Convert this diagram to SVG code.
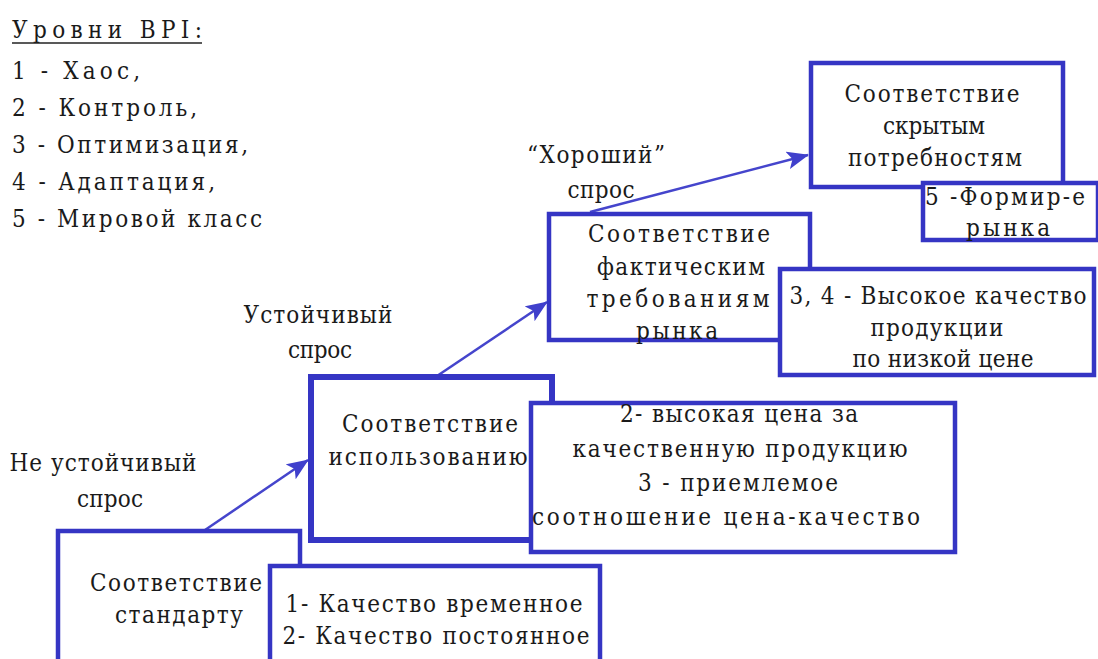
<svg xmlns="http://www.w3.org/2000/svg" width="1098" height="659" viewBox="0 0 1098 659">
<style>
.box{fill:#fff;stroke:#3535c4;stroke-width:4.5}
.t{font-family:"DejaVu Serif Condensed","DejaVu Serif","Liberation Serif",serif;font-stretch:condensed;font-size:24px;fill:#1a1a1a;text-anchor:middle}
.l{font-family:"DejaVu Serif Condensed","DejaVu Serif","Liberation Serif",serif;font-stretch:condensed;font-size:24px;fill:#1a1a1a}
.c{stroke:#4545cc;stroke-width:2.5;fill:none}
</style>
<defs>
<marker id="ah" viewBox="0 0 22 18" refX="21" refY="9" markerWidth="22" markerHeight="18" orient="auto" markerUnits="userSpaceOnUse">
<path d="M0,0 L22,9 L0,18 L5,9 z" fill="#4040cc"/>
</marker>
</defs>
<rect width="1098" height="659" fill="#fff"/>
<g id="legend">
<text class="l" x="12" y="38" textLength="190" lengthAdjust="spacing">Уровни BPI:</text>
<line x1="12" y1="43" x2="202" y2="43" stroke="#222" stroke-width="1.5"/>
<text class="l" x="12" y="79" textLength="128" lengthAdjust="spacing">1 - Хаос,</text>
<text class="l" x="12" y="116" textLength="185" lengthAdjust="spacing">2 - Контроль,</text>
<text class="l" x="12" y="153" textLength="236" lengthAdjust="spacing">3 - Оптимизация,</text>
<text class="l" x="12" y="190" textLength="203" lengthAdjust="spacing">4 - Адаптация,</text>
<text class="l" x="12" y="227" textLength="250" lengthAdjust="spacing">5 - Мировой класс</text>
</g>
<g id="labels">
<text class="t" x="103" y="471" textLength="187" lengthAdjust="spacing">Не устойчивый</text>
<text class="t" x="110" y="507" textLength="66" lengthAdjust="spacing">спрос</text>
<text class="t" x="318" y="323" textLength="149" lengthAdjust="spacing">Устойчивый</text>
<text class="t" x="320" y="358" textLength="64" lengthAdjust="spacing">спрос</text>
<text class="t" x="596" y="163" textLength="138" lengthAdjust="spacing">“Хороший”</text>
<text class="t" x="601" y="198" textLength="67" lengthAdjust="spacing">спрос</text>
</g>
<g id="connectors">
<line class="c" x1="205" y1="530" x2="308" y2="460" marker-end="url(#ah)"/>
<line class="c" x1="437" y1="376" x2="547" y2="302" marker-end="url(#ah)"/>
<line class="c" x1="590" y1="212" x2="808" y2="155" marker-end="url(#ah)"/>
</g>
<g id="nodeA">
<rect class="box" x="58" y="531" width="242" height="140"/>
<text class="t" x="176" y="591" textLength="172" lengthAdjust="spacing">Соответствие</text>
<text class="t" x="179" y="623" textLength="128" lengthAdjust="spacing">стандарту</text>
</g>
<g id="nodeA2">
<rect class="box" x="270" y="566" width="330" height="110"/>
<text class="t" x="434" y="612" textLength="297" lengthAdjust="spacing">1- Качество временное</text>
<text class="t" x="436" y="644" textLength="307" lengthAdjust="spacing">2- Качество постоянное</text>
</g>
<g id="nodeB">
<rect class="box" x="311" y="377" width="241" height="163" style="stroke-width:6"/>
<text class="t" x="430" y="432" textLength="176" lengthAdjust="spacing">Соответствие</text>
<text class="t" x="428" y="465" textLength="199" lengthAdjust="spacing">использованию</text>
</g>
<g id="nodeB2">
<rect class="box" x="531" y="403" width="424" height="149"/>
<text class="t" x="739" y="422" textLength="238" lengthAdjust="spacing">2- высокая цена за</text>
<text class="t" x="740" y="457" textLength="335" lengthAdjust="spacing">качественную продукцию</text>
<text class="t" x="738" y="491" textLength="200" lengthAdjust="spacing">3 - приемлемое</text>
<text class="t" x="726" y="525" textLength="388" lengthAdjust="spacing">соотношение цена-качество</text>
</g>
<g id="nodeC">
<rect class="box" x="549" y="214" width="261" height="126"/>
<text class="t" x="679" y="242" textLength="182" lengthAdjust="spacing">Соответствие</text>
<text class="t" x="681" y="275" textLength="168" lengthAdjust="spacing">фактическим</text>
<text class="t" x="678" y="307" textLength="183" lengthAdjust="spacing">требованиям</text>
<text class="t" x="677" y="339" textLength="82" lengthAdjust="spacing">рынка</text>
</g>
<g id="nodeC2">
<rect class="box" x="780" y="269" width="314" height="106"/>
<text class="t" x="938" y="304" textLength="297" lengthAdjust="spacing">3, 4 - Высокое качество</text>
<text class="t" x="937" y="336" textLength="133" lengthAdjust="spacing">продукции</text>
<text class="t" x="943" y="367" textLength="181" lengthAdjust="spacing">по низкой цене</text>
</g>
<g id="nodeD">
<rect class="box" x="811" y="63" width="252" height="124"/>
<text class="t" x="932" y="102" textLength="175" lengthAdjust="spacing">Соответствие</text>
<text class="t" x="934" y="134" textLength="102" lengthAdjust="spacing">скрытым</text>
<text class="t" x="935" y="166" textLength="174" lengthAdjust="spacing">потребностям</text>
</g>
<g id="nodeD2">
<rect class="box" x="923" y="183" width="175" height="57"/>
<text class="t" x="1005" y="205" textLength="160" lengthAdjust="spacing">5 -Формир-е</text>
<text class="t" x="1008" y="236" textLength="84" lengthAdjust="spacing">рынка</text>
</g>
</svg>
